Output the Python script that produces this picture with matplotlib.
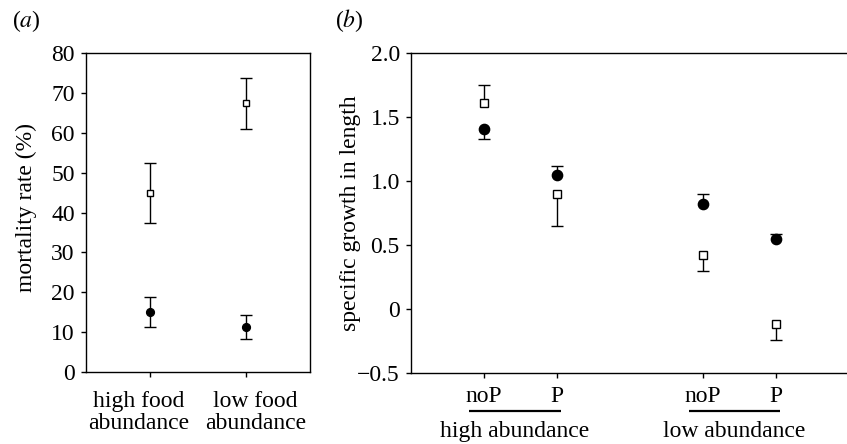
import matplotlib
matplotlib.use("Agg")
import matplotlib.pyplot as plt
import matplotlib.transforms as mtransforms

plt.rcParams['font.family'] = ['Liberation Serif', 'DejaVu Serif']
plt.rcParams['mathtext.fontset'] = 'stix'

# ---------------- data ----------------
# panel (a): mortality rate (%)
a_categories = ["high food\nabundance", "low food\nabundance"]
a_square_mean = [44.9, 67.5]
a_square_lo = [37.4, 61.0]
a_square_hi = [52.5, 73.9]
a_circle_mean = [14.9, 11.2]
a_circle_lo = [11.2, 8.1]
a_circle_hi = [18.7, 14.2]
a_yticks = [0, 10, 20, 30, 40, 50, 60, 70, 80]

# panel (b): specific growth in length
b_ticklabels = ["noP", "P", "noP", "P"]
b_groups = ["high abundance", "low abundance"]
b_square_mean = [1.61, 0.90, 0.42, -0.12]
b_square_lo = [1.61, 0.65, 0.30, -0.24]
b_square_hi = [1.75, 0.90, 0.42, -0.12]
b_circle_mean = [1.41, 1.05, 0.82, 0.55]
b_circle_lo = [1.33, 1.05, 0.82, 0.55]
b_circle_hi = [1.41, 1.12, 0.90, 0.59]
b_yticks = [-0.5, 0, 0.5, 1.0, 1.5, 2.0]
b_yticklabels = ["\u22120.5", "0", "0.5", "1.0", "1.5", "2.0"]

W, H = 847, 444
fig = plt.figure(figsize=(W / 100, H / 100), dpi=100)
FS = 17

def px_rect(l, t, r, b):
    return [l / W, 1 - b / H, (r - l) / W, (b - t) / H]

# ---------------- panel a ----------------
axa = fig.add_axes(px_rect(85.5, 53.5, 310, 371.7))
xa = [1, 2]
err_sq = [[m - lo for m, lo in zip(a_square_mean, a_square_lo)],
          [hi - m for m, hi in zip(a_square_mean, a_square_hi)]]
err_ci = [[m - lo for m, lo in zip(a_circle_mean, a_circle_lo)],
          [hi - m for m, hi in zip(a_circle_mean, a_circle_hi)]]
axa.errorbar(xa, a_square_mean, yerr=err_sq, fmt='none', ecolor='black',
             elinewidth=1.0, capsize=4.6, capthick=1.0, zorder=2)
axa.errorbar(xa, a_circle_mean, yerr=err_ci, fmt='none', ecolor='black',
             elinewidth=1.0, capsize=4.6, capthick=1.0, zorder=2)
axa.plot(xa, a_square_mean, linestyle='none', marker='s', markersize=5.0,
         markerfacecolor='white', markeredgecolor='black', markeredgewidth=1.0, zorder=3)
axa.plot(xa, a_circle_mean, linestyle='none', marker='o', markersize=5.6,
         markerfacecolor='black', markeredgecolor='black', zorder=3)
axa.set_xlim(0.326, 2.672)
axa.set_ylim(0, 80)
axa.set_yticks(a_yticks)
axa.set_xticks(xa)
axa.set_xticklabels(a_categories, linespacing=1.1)
axa.set_ylabel("mortality rate (%)", fontsize=FS)
axa.yaxis.set_label_coords(-0.265, 0.516)
axa.yaxis.label.set_va('center')

# ---------------- panel b ----------------
axb = fig.add_axes(px_rect(410.7, 53.5, 849.5, 372.7))
xb = [1, 2, 4, 5]

def one_sided(ax, x, m, lo, hi):
    for end in (lo, hi):
        if end != m:
            ax.vlines(x, min(m, end), max(m, end), color='black', linewidth=1.0, zorder=2)
            ax.plot([x], [end], marker='_', markersize=8.6, markeredgewidth=1.0,
                    color='black', linestyle='none', zorder=2)

for x, m, lo, hi in zip(xb, b_square_mean, b_square_lo, b_square_hi):
    one_sided(axb, x, m, lo, hi)
for x, m, lo, hi in zip(xb, b_circle_mean, b_circle_lo, b_circle_hi):
    one_sided(axb, x, m, lo, hi)
axb.plot(xb, b_square_mean, linestyle='none', marker='s', markersize=6.2,
         markerfacecolor='white', markeredgecolor='black', markeredgewidth=1.0, zorder=3)
axb.plot(xb, b_circle_mean, linestyle='none', marker='o', markersize=7.4,
         markerfacecolor='black', markeredgecolor='black', zorder=3)
axb.set_xlim(0, 6)
axb.set_ylim(-0.5, 2.0)
axb.set_yticks(b_yticks)
axb.set_yticklabels(b_yticklabels)
axb.set_xticks(xb)
axb.set_xticklabels(b_ticklabels)
axb.spines['right'].set_visible(False)
axb.set_ylabel("specific growth in length", fontsize=FS)
axb.yaxis.set_label_coords(-0.138, 0.50)
axb.yaxis.label.set_va('center')

trans = mtransforms.blended_transform_factory(axb.transData, axb.transAxes)
group_spans = [(0.8, 2.05), (3.8, 5.05)]
for (x0, x1), name in zip(group_spans, b_groups):
    axb.plot([x0, x1], [-0.119, -0.119], transform=trans, color='black',
             linewidth=1.6, clip_on=False, solid_capstyle='butt')
    axb.text((x0 + x1) / 2, -0.2005, name, transform=trans, ha='center',
             va='baseline', fontsize=FS)

for ax in (axa, axb):
    for s in ax.spines.values():
        s.set_linewidth(1.0)
        s.set_color('black')
    ax.tick_params(axis='both', direction='out', length=3.8, width=1.0,
                   labelsize=FS, pad=4, colors='black')
axa.tick_params(axis='x', pad=10)
axb.tick_params(axis='x', pad=6)

# shift the two category labels of panel a apart, as in the reference
for lab, dx in zip(axa.get_xticklabels(), [-11, 10]):
    lab.set_transform(lab.get_transform() +
                      mtransforms.ScaledTranslation(dx / 100, 0, fig.dpi_scale_trans))

fig.text(12 / W, 1 - 21 / H, "($a$)", fontsize=FS, ha='left', va='center')
fig.text(335 / W, 1 - 21 / H, "($b$)", fontsize=FS, ha='left', va='center')

fig.savefig("out.png", dpi=100)
